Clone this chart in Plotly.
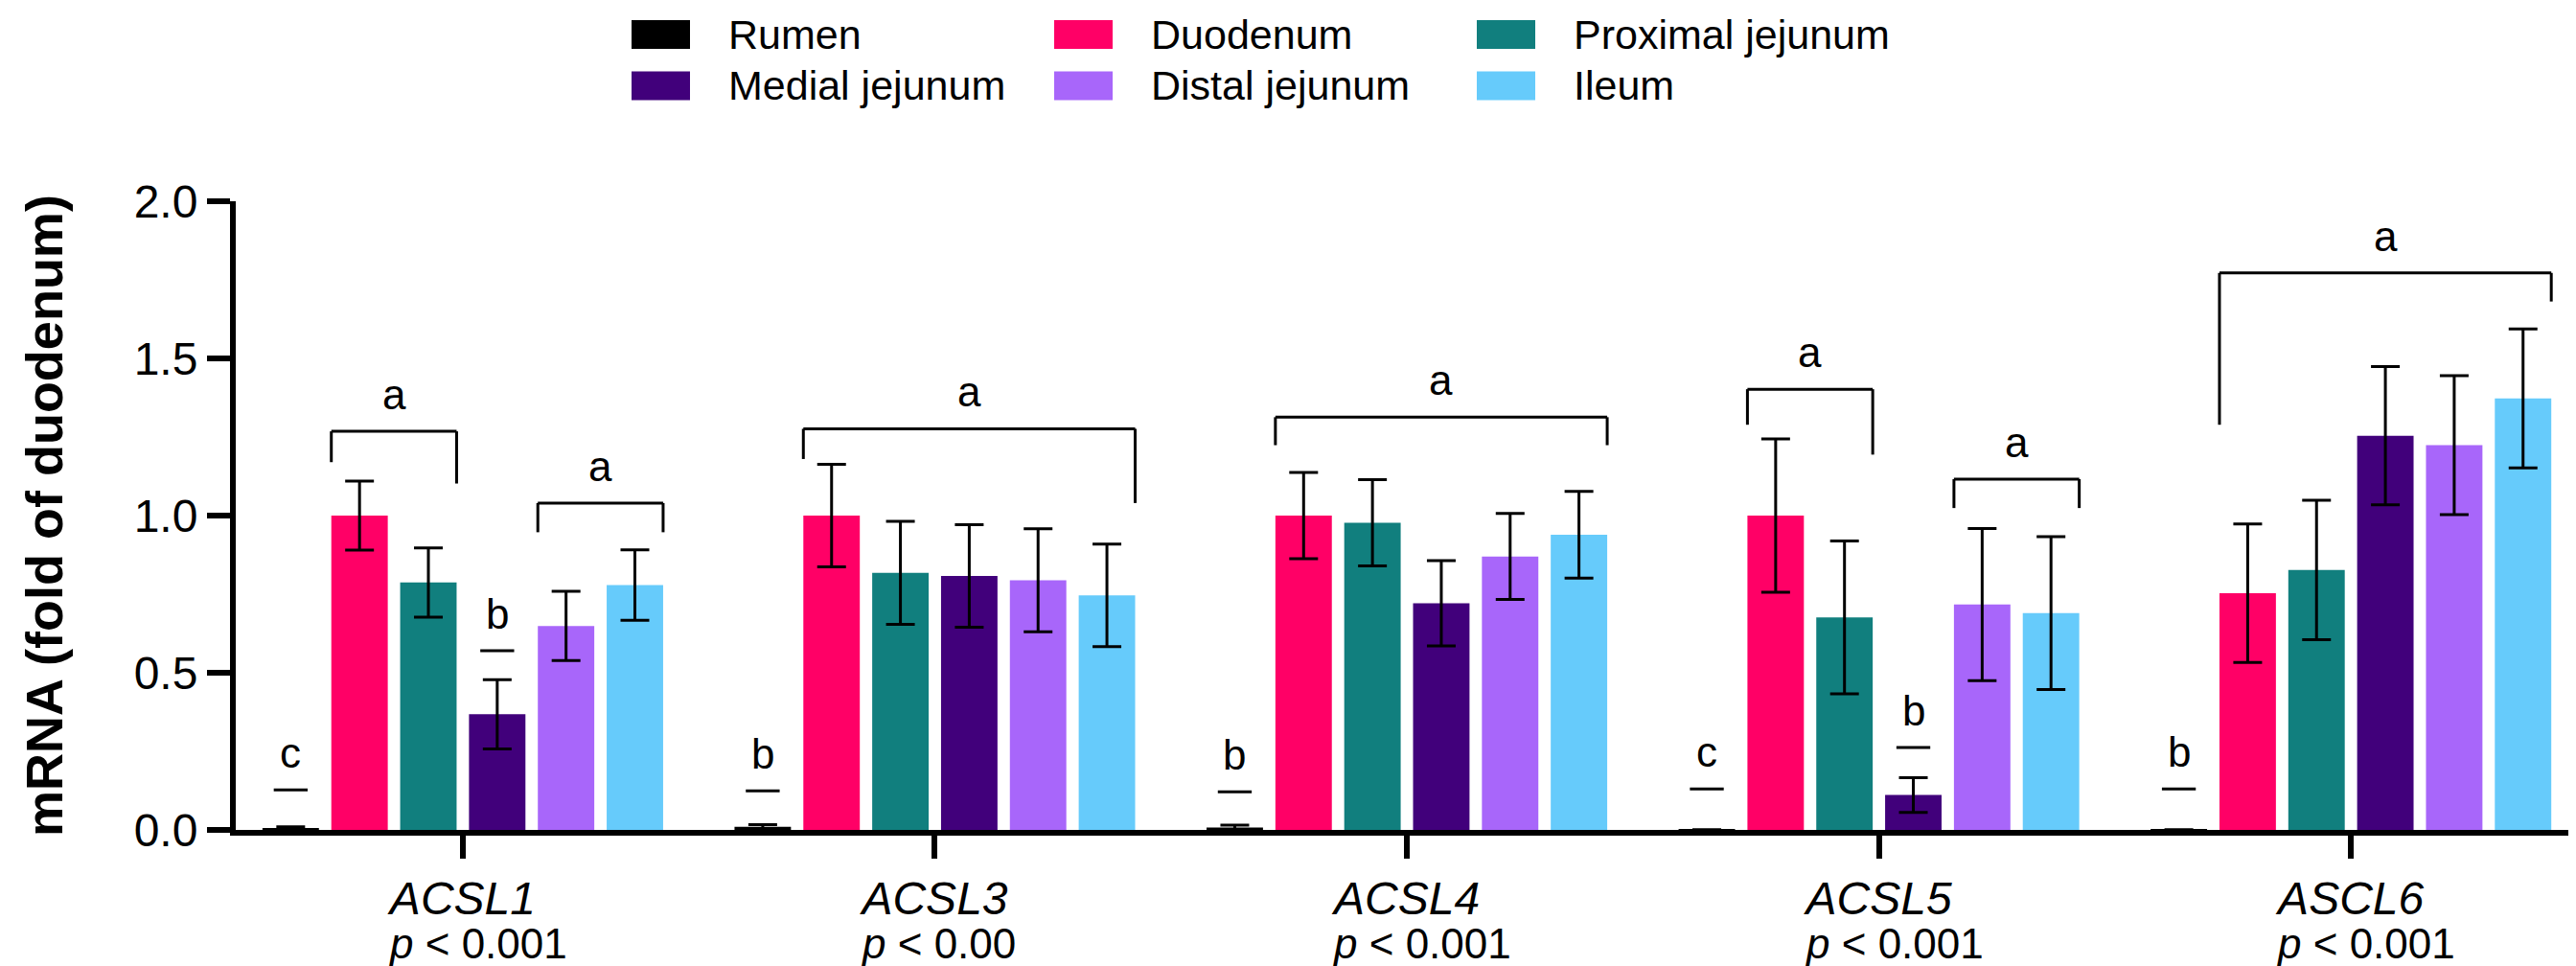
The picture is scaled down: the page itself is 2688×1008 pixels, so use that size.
import plotly.graph_objects as go

# ---------------- data ----------------
genes = ["ACSL1", "ACSL3", "ACSL4", "ACSL5", "ASCL6"]
p_texts = ["p < 0.001", "p < 0.00", "p < 0.001", "p < 0.001", "p < 0.001"]

tissues = ["Rumen", "Duodenum", "Proximal jejunum", "Medial jejunum", "Distal jejunum", "Ileum"]
colors = ["#000000", "#FF0066", "#117F7E", "#41007B", "#A866FA", "#66CBFB"]

rumen = [0.004, 0.010, 0.008, 0.001, 0.001]
rumen_err = [0.006, 0.007, 0.007, 0.0, 0.0]
duodenum = [1.000, 1.000, 1.000, 1.000, 0.753]
duodenum_err = [0.110, 0.163, 0.137, 0.244, 0.220]
proximal = [0.787, 0.818, 0.977, 0.676, 0.827]
proximal_err = [0.110, 0.164, 0.137, 0.243, 0.222]
medial = [0.368, 0.808, 0.721, 0.111, 1.254]
medial_err = [0.110, 0.163, 0.136, 0.055, 0.220]
distal = [0.649, 0.794, 0.870, 0.717, 1.224]
distal_err = [0.110, 0.164, 0.137, 0.242, 0.221]
ileum = [0.779, 0.746, 0.939, 0.690, 1.373]
ileum_err = [0.112, 0.163, 0.138, 0.243, 0.221]

series = [rumen, duodenum, proximal, medial, distal, ileum]
series_err = [rumen_err, duodenum_err, proximal_err, medial_err, distal_err, ileum_err]

# significance brackets (spanning several bars)
br_gene = [0, 0, 1, 2, 3, 3, 4]
br_first = [1, 4, 1, 1, 1, 4, 1]
br_last = [2, 5, 5, 5, 2, 5, 5]
br_top = [1.268, 1.040, 1.276, 1.313, 1.402, 1.116, 1.772]
br_left_end = [1.170, 0.947, 1.180, 1.224, 1.289, 1.024, 1.289]
br_right_end = [1.102, 0.947, 1.040, 1.224, 1.194, 1.024, 1.681]
br_letter = ["a", "a", "a", "a", "a", "a", "a"]

# single-bar significance marks
mk_gene = [0, 0, 1, 2, 3, 3, 4]
mk_bar = [0, 3, 0, 0, 0, 3, 0]
mk_y = [0.127, 0.570, 0.124, 0.121, 0.130, 0.262, 0.130]
mk_letter = ["c", "b", "b", "b", "c", "b", "b"]

# ---------------- layout constants ----------------
W, H = 2688, 1008
ML, MR, MT, MB = 238, 0, 202, 150
PW, PH = W - ML - MR, H - MT - MB
BARGAP, BARGROUPGAP = 0.125, 0.18
NT = len(tissues)
FONT = "Liberation Sans, Arial, sans-serif"
LETTER_OFF = 0.118


def bar_center(i, k):
    slot = (1 - BARGAP) / NT
    return i - (1 - BARGAP) / 2 + (k + 0.5) * slot


def bar_half():
    return (1 - BARGAP) / NT * (1 - BARGROUPGAP) / 2


def px2x(px):
    return (px - ML) / PW


def py2y(py):
    return (H - MB - py) / PH


fig = go.Figure()
for k, name in enumerate(tissues):
    fig.add_trace(go.Bar(
        name=name, x=genes, y=series[k],
        marker=dict(color=colors[k], line=dict(width=0)),
        error_y=dict(type="data", array=series_err[k], visible=True,
                     color="black", thickness=3, width=15),
        showlegend=False,
    ))

shapes = []
annotations = []
line_style = dict(color="black", width=3)

for g, f, l, top, le, re, let in zip(br_gene, br_first, br_last, br_top,
                                       br_left_end, br_right_end, br_letter):
    x0 = bar_center(g, f) - bar_half()
    x1 = bar_center(g, l) + bar_half()
    shapes.append(dict(type="line", xref="x", yref="y", x0=x0, x1=x0, y0=le, y1=top, line=line_style))
    shapes.append(dict(type="line", xref="x", yref="y", x0=x0, x1=x1, y0=top, y1=top, line=line_style))
    shapes.append(dict(type="line", xref="x", yref="y", x0=x1, x1=x1, y0=top, y1=re, line=line_style))
    annotations.append(dict(x=(x0 + x1) / 2, y=top + LETTER_OFF, xref="x", yref="y",
                            text=let, showarrow=False, xanchor="center", yanchor="middle",
                            font=dict(family=FONT, size=44, color="black")))

for g, b, yv, let in zip(mk_gene, mk_bar, mk_y, mk_letter):
    c = bar_center(g, b)
    hw = bar_half() * 0.6
    shapes.append(dict(type="line", xref="x", yref="y", x0=c - hw, x1=c + hw, y0=yv, y1=yv, line=line_style))
    annotations.append(dict(x=c, y=yv + LETTER_OFF, xref="x", yref="y",
                            text=let, showarrow=False, xanchor="center", yanchor="middle",
                            font=dict(family=FONT, size=44, color="black")))

# p-value lines under gene names
for i, pt in enumerate(p_texts):
    txt = "<i>p</i> " + pt[2:].replace("<", "&lt;")
    annotations.append(dict(x=i - 0.162, y=py2y(976), xref="x", yref="paper",
                            text=txt, showarrow=False, xanchor="left", yanchor="middle",
                            font=dict(family=FONT, size=44, color="black")))

# manual legend (2 rows x 3 columns)
for k, name in enumerate(tissues):
    row, col = divmod(k, 3)
    sx0 = 651 + col * 441
    sy0 = 13 + row * 53.4
    shapes.append(dict(type="rect", xref="paper", yref="paper",
                       x0=px2x(sx0), x1=px2x(sx0 + 61), y0=py2y(sy0), y1=py2y(sy0 + 30),
                       fillcolor=colors[k], line=dict(width=0)))
    annotations.append(dict(x=px2x(sx0 + 99), y=py2y(sy0 + 15), xref="paper", yref="paper",
                            text=name, showarrow=False, xanchor="left", yanchor="middle",
                            font=dict(family=FONT, size=43, color="black")))

# y-axis title
annotations.append(dict(x=px2x(38), y=0.5, xref="paper", yref="paper",
                        text="<b>mRNA (fold of duodenum)</b>", textangle=-90,
                        showarrow=False, xanchor="center", yanchor="middle",
                        font=dict(family=FONT, size=54, color="black")))

fig.update_layout(
    width=W, height=H,
    margin=dict(l=ML, r=MR, t=MT, b=MB, pad=0),
    paper_bgcolor="white", plot_bgcolor="white",
    barmode="group", bargap=BARGAP, bargroupgap=BARGROUPGAP,
    shapes=shapes, annotations=annotations,
    font=dict(family=FONT, color="black"),
    xaxis=dict(
        type="category", range=[-0.481, 4.493],
        tickmode="array", tickvals=genes, ticktext=["<i>%s</i>" % g for g in genes],
        ticks="outside", ticklen=24, tickwidth=6, tickcolor="black",
        showline=True, linewidth=6, linecolor="black",
        showgrid=False, zeroline=False,
        tickfont=dict(family=FONT, size=48, color="black"),
    ),
    yaxis=dict(
        range=[0, 2], tickvals=[0, 0.5, 1.0, 1.5, 2.0],
        ticktext=["0.0", "0.5", "1.0", "1.5", "2.0"],
        ticks="outside", ticklen=24, tickwidth=6, tickcolor="black",
        showline=True, linewidth=6, linecolor="black",
        showgrid=False, zeroline=False,
        tickfont=dict(family=FONT, size=48, color="black"),
    ),
)

fig.write_html("out.html")
